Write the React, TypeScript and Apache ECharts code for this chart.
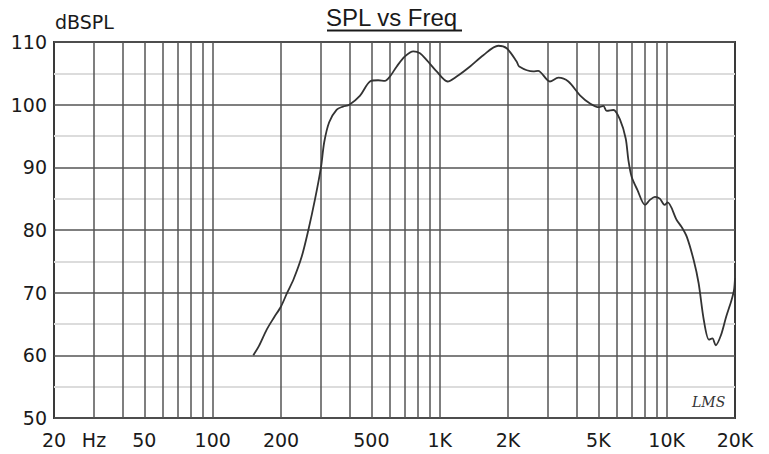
import React, { useEffect, useRef } from "react";
import * as echarts from "echarts";

const freqHz = [
  151, 160, 173, 186, 200, 213, 227, 247, 264, 282, 300, 310, 326, 352, 375,
  400, 445, 493, 536, 574, 604, 647, 703, 766, 819, 877, 970, 1084, 1188, 1361,
  1557, 1812, 1973, 2183, 2240, 2584, 2714, 3060, 3333, 3690, 4150, 4595, 5040,
  5260, 5445, 5830, 6230, 6600, 6780, 7010, 7430, 8030, 8440, 8880, 9330, 9790,
  10100, 11070, 11630, 12270, 13150, 13830, 14580, 15360, 15900, 16450, 17340,
  18300, 19300, 19800, 20000,
];
const splDb = [
  60, 61.5, 64.1, 66, 67.8, 70, 72.1, 75.8, 80, 84.8, 90, 94, 97.2, 99.2, 99.7,
  100, 101.4, 103.7, 103.9, 103.8, 104.5, 106.1, 107.7, 108.5, 108.2, 107.1,
  105.3, 103.7, 104.5, 106.1, 107.9, 109.4, 109, 106.9, 106.1, 105.3, 105.4,
  103.7, 104.3, 103.7, 101.5, 100.2, 99.6, 99.8, 99.0, 99.15, 97.6, 94.6, 91.2,
  88.5, 86.4, 84, 84.8, 85.3, 85.0, 84.0, 84.4, 81.6, 80.5, 78.9, 75.2, 71.5,
  65.6, 62.5, 62.7, 61.6, 63.2, 66.2, 68.8, 70.4, 72.3,
];

const xTickValues = [20, 30, 50, 100, 200, 500, 1000, 2000, 5000, 10000, 20000];
const xTickLabels = ["20", "Hz", "50", "100", "200", "500", "1K", "2K", "5K", "10K", "20K"];
const xGridValues = [
  30, 40, 50, 60, 70, 80, 90, 100, 200, 300, 400, 500, 600, 700, 800, 900, 1000,
  2000, 3000, 4000, 5000, 6000, 7000, 8000, 9000, 10000,
];
const yMinorValues = [55, 65, 75, 85, 95, 105];

const titleText = "SPL vs Freq";
const yUnitText = "dBSPL";
const logoText = "LMS";

export default function App() {
  const ref = useRef<HTMLDivElement>(null);
  useEffect(() => {
    if (!ref.current) return;
    const chart = echarts.init(ref.current, null, { renderer: "svg" });
    const labelFont = "DejaVu Sans";
    chart.setOption({
      animation: false,
      backgroundColor: "#ffffff",
      grid: {
        left: 54,
        top: 42,
        right: 34,
        bottom: 36,
        show: true,
        borderColor: "#3a3a3a",
        borderWidth: 2,
        backgroundColor: "transparent",
      },
      xAxis: {
        type: "log",
        logBase: 10,
        min: 20,
        max: 20000,
        axisLine: { show: false },
        axisTick: { show: false },
        splitLine: { show: false },
        axisLabel: {
          customValues: xTickValues,
          margin: 12,
          fontSize: 19,
          fontFamily: labelFont,
          color: "#1a1a1a",
          formatter: (v: number) => {
            let best = 0;
            let bd = Infinity;
            xTickValues.forEach((t, i) => {
              const d = Math.abs(Math.log10(t) - Math.log10(v));
              if (d < bd) {
                bd = d;
                best = i;
              }
            });
            return xTickLabels[best];
          },
        },
      },
      yAxis: {
        type: "value",
        min: 50,
        max: 110,
        interval: 10,
        axisLine: { show: false },
        axisTick: { show: false },
        axisLabel: {
          margin: 7,
          fontSize: 19,
          fontFamily: labelFont,
          color: "#1a1a1a",
        },
        splitLine: { show: true, lineStyle: { color: "#555", width: 1.5 } },
      },
      graphic: [
        {
          type: "text",
          left: 326,
          top: 5,
          style: {
            text: titleText,
            fontSize: 24,
            fontFamily: "Liberation Sans",
            fill: "#1a1a1a",
          },
        },
        {
          type: "line",
          shape: { x1: 327, y1: 30.5, x2: 462, y2: 30.5 },
          style: { stroke: "#1a1a1a", lineWidth: 2 },
        },
        {
          type: "text",
          left: 55,
          top: 12,
          style: {
            text: yUnitText,
            fontSize: 19,
            fontFamily: labelFont,
            fill: "#1a1a1a",
          },
        },
        {
          type: "text",
          left: 692,
          top: 395,
          style: {
            text: logoText,
            fontSize: 14,
            fontStyle: "italic",
            fontFamily: "DejaVu Serif",
            fill: "#333",
          },
        },
      ],
      series: [
        {
          type: "line",
          data: [],
          z: 1,
          silent: true,
          markLine: {
            silent: true,
            symbol: ["none", "none"],
            label: { show: false },
            emphasis: { disabled: true },
            animation: false,
            data: [
              ...yMinorValues.map((v) => ({
                yAxis: v,
                lineStyle: { color: "#dcdcdc", width: 2, type: "solid" },
              })),
              ...xGridValues.map((v) => ({
                xAxis: v,
                lineStyle: { color: "#555", width: 1.5, type: "solid" },
              })),
            ],
          },
        },
        {
          type: "line",
          z: 5,
          data: freqHz.map((f, i) => [f, splDb[i]]),
          showSymbol: false,
          smooth: 0.3,
          lineStyle: { color: "#333", width: 1.8 },
          silent: true,
        },
      ],
    });
    return () => chart.dispose();
  }, []);
  return (
    <div
      ref={ref}
      style={{ position: "fixed", left: 0, top: 0, width: 769, height: 454 }}
    />
  );
}
